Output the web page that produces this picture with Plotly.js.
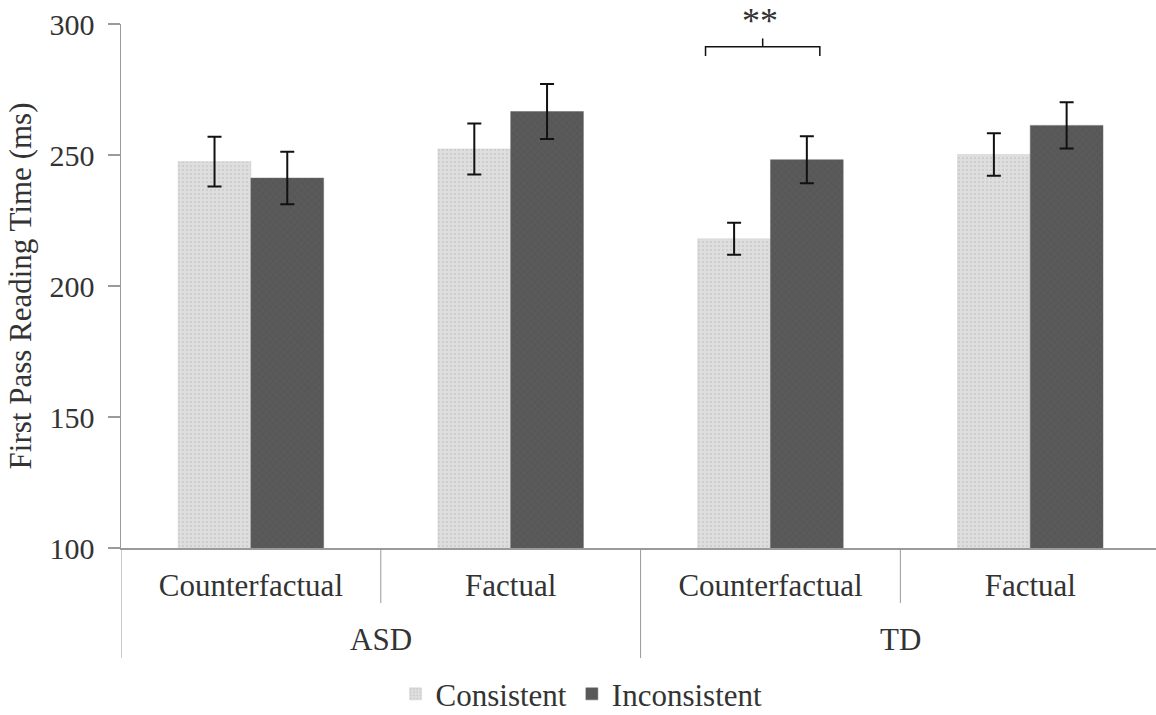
<!DOCTYPE html>
<html>
<head>
<meta charset="utf-8">
<script src="https://cdn.plot.ly/plotly-3.0.1.min.js"></script>
<style>html,body{margin:0;padding:0;background:#fff;}#chart{width:1156px;height:715px;}</style>
</head>
<body>
<div id="chart"></div>
<script>
// ---- data ----
const positions = [0, 1, 2, 3];
const conditionLabels = ["Counterfactual", "Factual", "Counterfactual", "Factual"];
const groupLabels = ["ASD", "TD"];
const groupCenters = [0.5, 2.5];
const consistentMeans = [247.5, 252.3, 218.0, 250.2];
const consistentErr = [9.5, 9.7, 6.1, 8.1];
const inconsistentMeans = [241.2, 266.6, 248.2, 261.3];
const inconsistentErr = [10.0, 10.5, 9.0, 8.8];
const yTicks = [100, 150, 200, 250, 300];
// significance bracket (data coords)
const bracketX = [1.75, 1.97, 2.19];
const bracketY = [287.8, 291.3, 294.5];
const sigLabel = "**";

const FONT = "'Liberation Serif', 'Times New Roman', serif";
const TXT = "#333333";
const AX = "#9a9a9a";

const traces = [
  {
    type: "bar", name: "Consistent", x: positions, y: consistentMeans,
    marker: {color: "#dcdcdc", line: {width: 0.5, color: "#cfcfcf"},
      pattern: {shape: ".", bgcolor: "#dedede", fgcolor: "#c9c9c9", size: 4, solidity: 0.2}},
    error_y: {type: "data", array: consistentErr, visible: true, color: "#111", thickness: 2, width: 7}
  },
  {
    type: "bar", name: "Inconsistent", x: positions, y: inconsistentMeans,
    marker: {color: "#595959", line: {width: 0.5, color: "#666"},
      pattern: {shape: "x", bgcolor: "#5a5a5a", fgcolor: "#4f4f4f", size: 5, solidity: 0.15}},
    error_y: {type: "data", array: inconsistentErr, visible: true, color: "#111", thickness: 2, width: 7}
  }
];

const shapes = [];
const innerDividers = [0.5, 2.5];
const outerDividers = [-0.5, 1.5];
innerDividers.forEach(function (xv) {
  shapes.push({type: "line", xref: "x", yref: "paper", x0: xv, x1: xv, y0: 0, y1: -0.105, line: {color: AX, width: 1}});
});
outerDividers.forEach(function (xv) {
  shapes.push({type: "line", xref: "x", yref: "paper", x0: xv, x1: xv, y0: 0, y1: -0.21, line: {color: AX, width: 1}});
});
// bracket
shapes.push({type: "path", xref: "x", yref: "y",
  path: "M" + bracketX[0] + "," + bracketY[0] + " L" + bracketX[0] + "," + bracketY[1] +
        " L" + bracketX[2] + "," + bracketY[1] + " L" + bracketX[2] + "," + bracketY[0],
  line: {color: "#111", width: 1.5}});
shapes.push({type: "line", xref: "x", yref: "y", x0: bracketX[1], x1: bracketX[1], y0: bracketY[1], y1: bracketY[2], line: {color: "#111", width: 1.5}});

const annotations = groupLabels.map(function (g, i) {
  return {text: g, x: groupCenters[i], xref: "x", y: -0.175, yref: "paper", showarrow: false,
    yanchor: "middle", font: {family: FONT, size: 31, color: TXT}};
});
annotations.push({text: sigLabel, x: bracketX[1] - 0.01, xref: "x", y: 1.0, yref: "paper", showarrow: false,
  yanchor: "middle", yshift: 3, font: {family: FONT, size: 36, color: TXT}});

const layout = {
  width: 1156, height: 715,
  margin: {l: 121, r: 0, t: 24, b: 167, autoexpand: false},
  paper_bgcolor: "#fff", plot_bgcolor: "#fff",
  font: {family: FONT, size: 31, color: TXT},
  barmode: "group", bargap: 0.44, bargroupgap: 0,
  showlegend: true,
  legend: {orientation: "h", x: 0.445, xanchor: "center", y: -0.279, yanchor: "middle",
    font: {family: FONT, size: 31, color: TXT}, itemclick: false, tracegroupgap: 0},
  xaxis: {
    range: [-0.5, 3.484], tickmode: "array", tickvals: positions, ticktext: conditionLabels,
    ticks: "", showgrid: false, zeroline: false, showline: true, linecolor: AX, linewidth: 2,
    ticklabelstandoff: 9, tickfont: {family: FONT, size: 31, color: TXT}, fixedrange: true, automargin: false
  },
  yaxis: {
    range: [100, 300], tickmode: "array", tickvals: yTicks, ticks: "outside", ticklen: 12,
    tickcolor: AX, tickwidth: 1.5, showline: true, linecolor: AX, linewidth: 1.5,
    showgrid: false, zeroline: false, ticklabelstandoff: 7,
    tickfont: {family: FONT, size: 30, color: TXT},
    title: {text: "First Pass Reading Time (ms)", font: {family: FONT, size: 31, color: TXT}, standoff: 8},
    fixedrange: true, automargin: false
  },
  shapes: shapes,
  annotations: annotations
};

Plotly.newPlot("chart", traces, layout, {displayModeBar: false, staticPlot: true});
</script>
</body>
</html>
